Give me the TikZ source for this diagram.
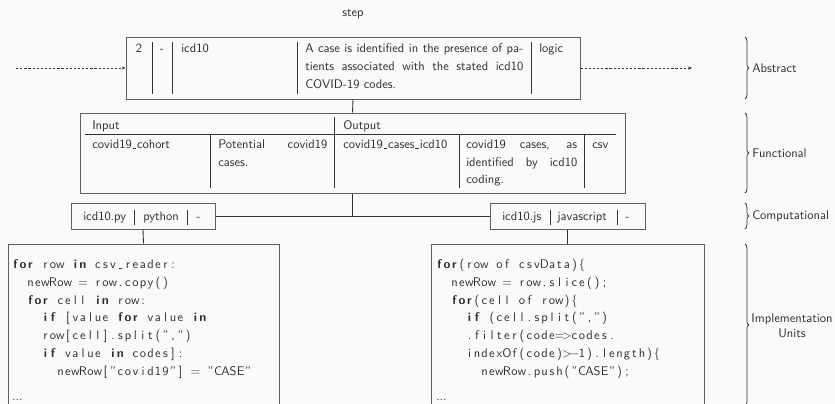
\documentclass[tikz,border=0pt]{standalone}
\usepackage{fontspec}
\usetikzlibrary{arrows.meta,decorations.pathreplacing,fit}

\definecolor{ink}{HTML}{2E2E2E}
\definecolor{frame}{HTML}{5C6363}
\definecolor{wire}{HTML}{333333}
\definecolor{paper}{HTML}{FAFAFA}

% low, short underscore
\newcommand\usc{\leavevmode\kern.06em\vbox{\hrule width .3em height .4pt}\kern.06em}

% code set in fixed 0.6em columns, one character per column;
% "*" toggles bold, "@" stands for an opening brace
\ExplSyntaxOn
\bool_new:N \g_codebold_bool
\cs_new_protected:Npn \codecell #1
  {
    \str_if_eq:nnTF {#1} {*}
      { \bool_if:NTF \g_codebold_bool
          { \bool_gset_false:N \g_codebold_bool }
          { \bool_gset_true:N \g_codebold_bool } }
      {
        \hbox_to_wd:nn { 0.6em }
          {
            \hss
            \bool_if:NT \g_codebold_bool { \bfseries }
            \str_case:nnF {#1}
              {
                {@} { \{ }
                {_} { \usc }
                {-} { \char"2212 }
              }
              {#1}
            \hss
          }
      }
  }
\NewDocumentCommand \codetext { m }
  {
    \group_begin:
    \sffamily
    \bool_gset_false:N \g_codebold_bool
    \str_map_inline:nn {#1} { \codecell {##1} }
    \group_end:
  }
\ExplSyntaxOff

\tikzset{
  panel/.style={draw=frame, line width=0.8pt, inner sep=0pt, fit={#1}},
  divider/.style={draw=wire, line width=0.7pt},
  link/.style={draw=wire, line width=0.7pt},
  lbl/.style={anchor=base west, inner sep=0pt, font=\sffamily, text=ink},
  lblc/.style={anchor=base, inner sep=0pt, font=\sffamily, text=ink},
  codeline/.style={anchor=base west, inner sep=0pt, text=ink},
  flow/.style={draw=wire, line width=0.5pt, dash pattern=on 1.8pt off 1.5pt,
    -{Stealth[length=3pt,width=2.6pt]}},
  tierbrace/.style={draw=wire, line width=0.6pt, decorate,
    decoration={brace, amplitude=3pt}},
  tier/.style={anchor=west, inner sep=0pt, font=\sffamily, text=ink},
}

\begin{document}
\begin{tikzpicture}[x=0.8pt,y=-0.8pt]
\fill[paper] (0,0) rectangle (835,403);
\useasboundingbox (0,0) rectangle (835,403);

\node[lblc] (steptitle) at (353,16.5) {step};

% ---- abstract layer ----
\node[panel={(126,37)(580,99)}] (abs) {};
\foreach \x in {152,172,297,531} \draw[divider] (\x,42) -- (\x,94);
\node[lblc] (absid) at (139,52.5) {2};
\node[lblc] (absver) at (162,52.5) {-};
\node[lbl] (absname) at (181,52.5) {icd10};
\node[lbl] (absd1) at (305,52.5) {\makebox[174.4pt][s]{A case is identified in the presence of pa-}};
\node[lbl] (absd2) at (305,70.5) {\makebox[174.4pt][s]{tients associated with the stated icd10}};
\node[lbl] (absd3) at (305,88.5) {COVID-19 codes.};
\node[lbl] (abstype) at (539,52.5) {logic};

\coordinate (src) at (16,68);
\coordinate (dst) at (692,68);
\draw[flow] (src) -- (abs.west);
\draw[flow] (abs.east) -- (dst);

% ---- functional layer ----
\node[panel={(80,113)(625,193)}] (func) {};
\draw[divider] (85,134) -- (616,134);
\draw[divider] (334,117) -- (334,188);
\foreach \x in {210,459,584} \draw[divider] (\x,135) -- (\x,188);
\node[lbl] (inhead) at (92,129) {Input};
\node[lbl] (outhead) at (343,129) {Output};
\node[lbl] (inname) at (92,148.5) {covid19\usc cohort};
\node[lbl] (indesc1) at (218,148.5) {\makebox[87.2pt][s]{Potential covid19}};
\node[lbl] (indesc2) at (218,166) {cases.};
\node[lbl] (outname) at (343,148.5) {covid19\usc cases\usc icd10};
\node[lbl] (outdesc1) at (466,148.5) {\makebox[88.8pt][s]{covid19 cases, as}};
\node[lbl] (outdesc2) at (466,166) {\makebox[88.8pt][s]{identified by icd10}};
\node[lbl] (outdesc3) at (466,183.5) {coding.};
\node[lbl] (outfmt) at (592,148.5) {csv};

\draw[link] (abs.south) -- (func.north);

% ---- computational layer ----
\node[panel={(71,203)(215,229)}] (py) {};
\draw[divider] (134,210) -- (134,225);
\draw[divider] (187,210) -- (187,225);
\node[lbl] (pyfile) at (83,220) {icd10.py};
\node[lbl] (pylang) at (143,220) {python};
\node[lbl] (pyver) at (196,220) {-};

\node[panel={(490,203)(645,229)}] (js) {};
\draw[divider] (550,210) -- (550,225);
\draw[divider] (617,210) -- (617,225);
\node[lbl] (jsfile) at (502,220) {icd10.js};
\node[lbl] (jslang) at (557,220) {javascript};
\node[lbl] (jsver) at (625,220) {-};

\coordinate (junction) at (func.south |- py.east);
\draw[link] (func.south) -- (junction);
\draw[link] (py.east) -- (js.west);

% ---- implementation units ----
\node[panel={(8,244)(279,406)}] (pycode) {};
\node[panel={(431,244)(704,406)}] (jscode) {};
\draw[link] (py.south) -- (pycode.north);
\draw[link] (js.south) -- (jscode.north);

\node[codeline] (py1) at (11.5,268.5) {\codetext{*for* row *in* csv_reader:}};
\node[codeline] (py2) at (26.5,286.3) {\codetext{newRow = row.copy()}};
\node[codeline] (py3) at (26.5,304.1) {\codetext{*for* cell *in* row:}};
\node[codeline] (py4) at (41.5,321.9) {\codetext{*if* [value *for* value *in*}};
\node[codeline] (py5) at (41.5,339.7) {\codetext{row[cell].split(",")}};
\node[codeline] (py6) at (41.5,357.5) {\codetext{*if* value *in* codes]:}};
\node[codeline] (py7) at (56.5,375.3) {\codetext{newRow["covid19"] = "CASE"}};
\node[lbl] (pymore) at (12,400) {...};

\node[codeline] (js1) at (435.5,268.5) {\codetext{*for*(row of csvData)@}};
\node[codeline] (js2) at (450.5,286.3) {\codetext{newRow = row.slice();}};
\node[codeline] (js3) at (450.5,304.1) {\codetext{*for*(cell of row)@}};
\node[codeline] (js4) at (465.5,321.9) {\codetext{*if* (cell.split(",")}};
\node[codeline] (js5) at (465.5,339.7) {\codetext{.filter(code=>codes.}};
\node[codeline] (js6) at (465.5,357.5) {\codetext{indexOf(code)>-1).length)@}};
\node[codeline] (js7) at (480.5,375.3) {\codetext{newRow.push("CASE");}};
\node[lbl] (jsmore) at (436,400) {...};

% ---- layer braces ----
\draw[tierbrace] (745,37) -- (745,99);
\node[tier] (labs) at (752,68) {Abstract};
\draw[tierbrace] (745,113) -- (745,193);
\node[tier] (lfunc) at (752,153) {Functional};
\draw[tierbrace] (745,203) -- (745,229);
\node[tier] (lcomp) at (752,216) {Computational};
\draw[tierbrace] (745,244) -- (745,406);
\node[font=\sffamily, align=center, text=ink, inner sep=0pt] (limpl) at (792,326) {Implementation\\Units};
\end{tikzpicture}
\end{document}
